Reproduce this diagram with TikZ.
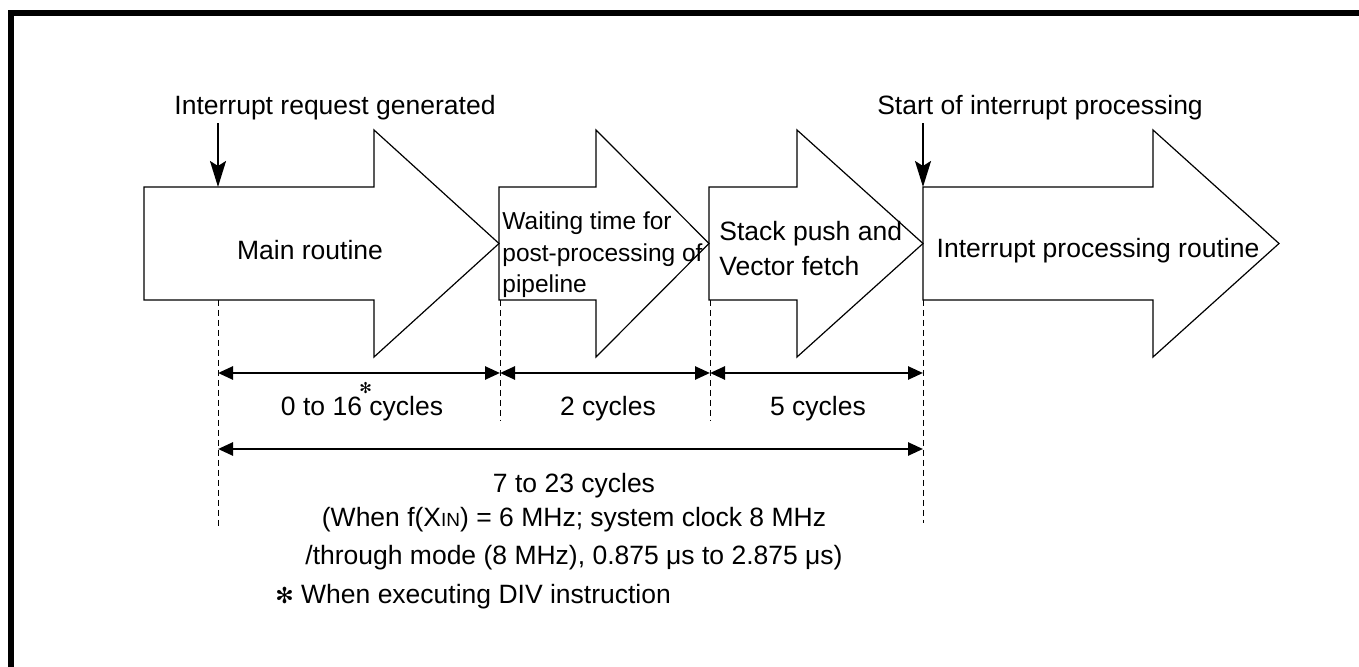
\documentclass[tikz,border=0pt]{standalone}
\usepackage{fontspec}
\setmainfont{Liberation Sans}
\newfontfamily\dingfont{DejaVu Sans}
\usepackage{tikz}
\usetikzlibrary{arrows.meta,positioning}
\newcommand{\blockarrow}[3]{\draw[blk] (#1,187) -- (#2,187) -- (#2,130) -- (#3,243.5) -- (#2,357) -- (#2,300) -- (#1,300) -- cycle;}
\newcommand{\dstar}{{\dingfont ✻}}

\begin{document}
\begin{tikzpicture}[x=0.5pt,y=-0.5pt,
  blk/.style={draw,line width=0.6pt,line join=miter},
  lbl/.style={inner sep=0pt,font=\fontsize{13.25pt}{16pt}\selectfont},
  guide/.style={dash pattern=on 3pt off 2pt,line width=0.5pt},
  dim/.style={{Triangle[length=7.5pt,width=6.5pt]}-{Triangle[length=7.5pt,width=6.5pt]},line width=1.3pt},
  event/.style={-{Stealth[length=13pt,width=8pt,inset=2.5pt]},line width=1pt}
]
\useasboundingbox (0,0) rectangle (1359,667);
\draw[line width=2.6pt] (11,667) -- (11,13) -- (1359,13);

% block arrows
\blockarrow{144}{374}{499}
\blockarrow{499}{596}{709}
\blockarrow{709}{797}{923}
\blockarrow{923}{1153}{1279}
\node[lbl,anchor=base] (main) at (310,260) {Main routine};
\node[lbl,anchor=base west,align=left,font=\fontsize{12.25pt}{15.75pt}\selectfont] (wait) at (502,293) {Waiting time for\\post-processing of\\pipeline};
\node[lbl,anchor=base west,align=left,font=\fontsize{13.25pt}{17.5pt}\selectfont] (push) at (719,276) {Stack push and\\Vector fetch};
\node[lbl,anchor=base] (isr) at (1098,258) {Interrupt processing routine};

% events
\coordinate (irq) at (218,187);
\coordinate (start) at (923,187);
\node[lbl,anchor=base,inner sep=1.3pt] (irqlbl) at (335,115) {Interrupt request generated};
\node[lbl,anchor=base,inner sep=1.3pt] (startlbl) at (1040,115) {Start of interrupt processing};
\draw[event] (irqlbl.south -| irq) -- (irq);
\draw[event] (startlbl.south -| start) -- (start);

% timing
\foreach \n/\x in {0/218,1/500,2/710,3/923} {
  \coordinate (g\n) at (\x,300);
  \coordinate (d\n) at (\x,373);
}
\coordinate (s0) at (218,449);
\coordinate (s3) at (923,449);
\draw[guide] (g0) -- (218,527);
\draw[guide] (g1) -- (500,421);
\draw[guide] (g2) -- (710,421);
\draw[guide] (g3) -- (923,523);
\draw[dim] (d0) -- (d1);
\draw[dim] (d1) -- (d2);
\draw[dim] (d2) -- (d3);
\draw[dim] (s0) -- (s3);

\node[lbl,anchor=base] (cyc0) at (362,416) {0 to 16\hbox to 0.278em{\hss\raisebox{11pt}{\fontsize{7.5pt}{8pt}\selectfont\dstar}\hss}cycles};
\node[lbl,anchor=base] (cyc1) at (608,416) {2 cycles};
\node[lbl,anchor=base] (cyc2) at (818,416) {5 cycles};
\node[lbl,anchor=base] (total) at (574,493) {7 to 23 cycles};
\node[lbl,anchor=base] (cond1) at (574,527) {(When f(X{\fontsize{9.5pt}{10pt}\selectfont IN}) = 6 MHz; system clock 8 MHz};
\node[lbl,anchor=base] (cond2) at (574,565) {/through mode (8 MHz), 0.875 μs to 2.875 μs)};
\node[lbl,anchor=base west] (note) at (275,603) {{\fontsize{11pt}{12pt}\selectfont\dstar} When executing DIV instruction};
\end{tikzpicture}
\end{document}
